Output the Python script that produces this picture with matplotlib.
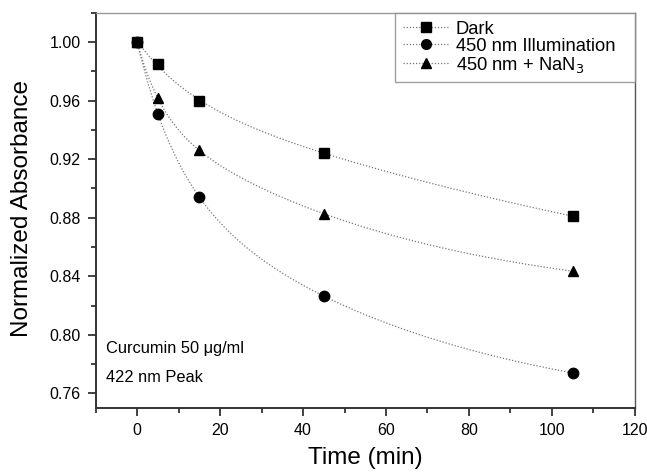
import numpy as np
import matplotlib
matplotlib.use('Agg')
import matplotlib.pyplot as plt
from matplotlib.ticker import MultipleLocator

plt.rcParams['font.family'] = ['Liberation Sans', 'DejaVu Sans']

# data
time = [0, 5, 15, 45, 105]
dark = [1.000, 0.985, 0.9595, 0.9245, 0.881]
illum = [1.000, 0.951, 0.894, 0.8265, 0.774]
nan3 = [1.000, 0.9615, 0.926, 0.8827, 0.8435]

labels = ['Dark', '450 nm Illumination', '450 nm + NaN$_3$']
markers = ['s', 'o', '^']


def exp_fit(t, y):
    # y = y0 + A1*exp(-t/t1) + A2*exp(-t/t2), taus by grid search, amplitudes by lstsq
    t = np.asarray(t, float)
    y = np.asarray(y, float)
    best = None
    taus = np.linspace(1, 200, 120)
    for t1 in taus:
        for t2 in taus:
            if t2 <= t1:
                continue
            M = np.column_stack([np.ones_like(t), np.exp(-t / t1), np.exp(-t / t2)])
            c, *_ = np.linalg.lstsq(M, y, rcond=None)
            err = np.sum((M @ c - y) ** 2)
            if best is None or err < best[0]:
                best = (err, t1, t2, c)
    _, t1, t2, c = best
    tt = np.linspace(0, 105, 300)
    return tt, c[0] + c[1] * np.exp(-tt / t1) + c[2] * np.exp(-tt / t2)


fig, ax = plt.subplots(figsize=(6.47, 4.75), dpi=100)
fig.subplots_adjust(left=0.148, right=0.981, top=0.973, bottom=0.141)

handles = []
for y, lab, m in zip([dark, illum, nan3], labels, markers):
    tt, yy = exp_fit(time, y)
    ax.plot(tt, yy, color='#777777', lw=0.9, ls=(0, (1, 1.5)), zorder=1)
    ax.plot(time, y, ls='none', marker=m, color='black', ms=7.5 if m != 's' else 7, zorder=3)
    h, = ax.plot([], [], color='#777777', lw=0.9, ls=(0, (1, 1.5)),
                 marker=m, mfc='black', mec='black', ms=7 if m != 's' else 6.5)
    handles.append(h)

ax.set_xlim(-10, 120)
ax.set_ylim(0.75, 1.02)
ax.xaxis.set_major_locator(MultipleLocator(20))
ax.xaxis.set_minor_locator(MultipleLocator(10))
ax.yaxis.set_major_locator(MultipleLocator(0.04))
ax.yaxis.set_minor_locator(MultipleLocator(0.02))
ax.yaxis.set_major_formatter(plt.FormatStrFormatter('%.2f'))
ax.tick_params(which='both', direction='out', top=False, right=False, labelsize=11.5, color='#222222')
ax.tick_params(which='major', length=6, width=1.2, pad=5)
ax.tick_params(which='minor', length=3.5, width=1.2)

for s in ['left', 'bottom']:
    ax.spines[s].set_linewidth(1.4)
    ax.spines[s].set_color('#333333')
ax.spines['top'].set_color('#999999')
ax.spines['top'].set_linewidth(1.0)
ax.spines['right'].set_color('#555555')
ax.spines['right'].set_linewidth(1.0)

ax.set_xlabel('Time (min)', fontsize=17.5, labelpad=6)
ax.set_ylabel('Normalized Absorbance', fontsize=17.5)
ax.yaxis.set_label_coords(-0.116, 0.505)

ax.text(-7.5, 0.7876, 'Curcumin 50 \u03bcg/ml', fontsize=11.8)
ax.text(-7.5, 0.7678, '422 nm Peak', fontsize=11.8)

leg = ax.legend(handles, labels, loc='upper right', fontsize=13.2, frameon=True,
                fancybox=False, borderaxespad=0, handlelength=2.6, handletextpad=0.3,
                borderpad=0.42, labelspacing=0.0, mode='expand',
                bbox_to_anchor=(0.555, 0, 0.445, 1))
leg.get_frame().set_edgecolor('#888888')
leg.get_frame().set_linewidth(1.0)

fig.savefig('out.png', dpi=100)
